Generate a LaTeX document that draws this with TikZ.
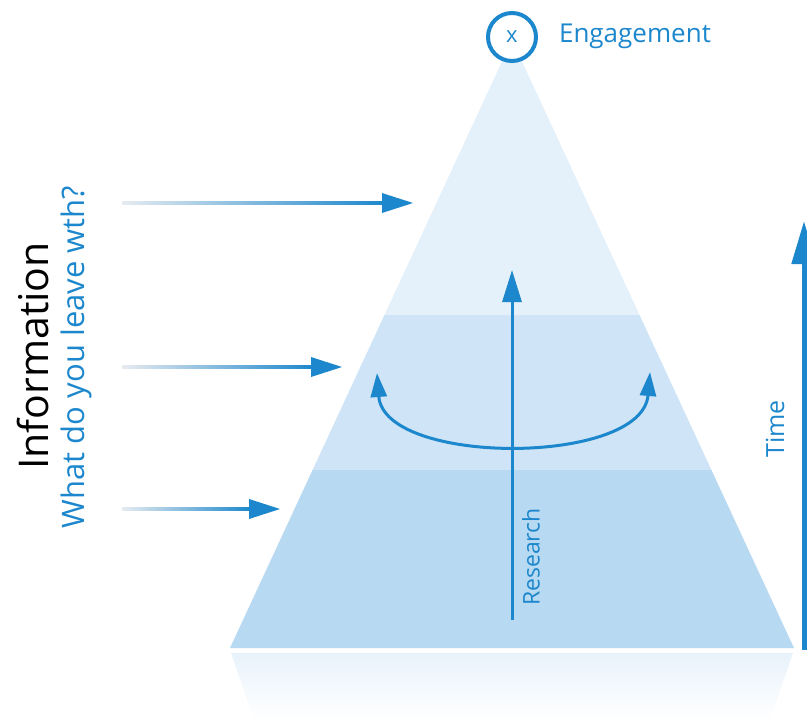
\documentclass[tikz,border=0pt]{standalone}
\usepackage{fontspec}
\setmainfont{Open Sans}
\usetikzlibrary{arrows.meta,calc}
\definecolor{accent}{HTML}{1C87CC}
\definecolor{bandtop}{HTML}{E4F0FA}
\definecolor{bandmid}{HTML}{CFE4F6}
\definecolor{bandlow}{HTML}{B8D9F2}
\definecolor{fadeend}{HTML}{E6EBF0}
\tikzset{
  inflow/.style={fill=accent},
  label/.style={text=accent, inner sep=0pt, font=\fontsize{23}{25}\selectfont},
  bigtip/.tip={Triangle[length=32pt,width=19pt]},
  curvetip/.tip={Triangle[length=24pt,width=16pt]},
  timetip/.tip={Triangle[length=43pt,width=24pt]},
}
\begin{document}
\begin{tikzpicture}[x=1pt,y=-1pt]
  \useasboundingbox (0,0) rectangle (807,720);
  \clip (0,0) rectangle (807,720);

  % pyramid, three bands
  \coordinate (apex) at (512,40);
  \coordinate (bl) at (230,648);
  \coordinate (br) at (794,648);
  \path ($(apex)!{(315-40)/608}!(bl)$) coordinate (l1)
        ($(apex)!{(315-40)/608}!(br)$) coordinate (r1)
        ($(apex)!{(470-40)/608}!(bl)$) coordinate (l2)
        ($(apex)!{(470-40)/608}!(br)$) coordinate (r2);
  \fill[bandlow] (bl) -- (br) -- (r2) -- (l2) -- cycle;
  \fill[bandmid] (l2) -- (r2) -- (r1) -- (l1) -- cycle;
  \fill[bandtop] (apex) -- (l1) -- (r1) -- cycle;

  % mirrored reflection under the base
  \shade[top color=bandtop!85!white, bottom color=white]
    (231,653) -- (793,653) -- (770,720) -- (254,720) -- cycle;

  % engagement marker at the apex
  \node[circle, draw=accent, fill=white, line width=4pt, minimum size=48pt, inner sep=0pt,
        text=accent, font=\fontsize{22}{22}\selectfont] (goal) at (512,37) {x};
  \node[label, font=\fontsize{26}{28}\selectfont] (eng) at (635,36) {Engagement};

  % incoming information arrows, fading in from the left
  \foreach \y/\tip [count=\i] in {203/413, 367/342, 509/280} {
    \coordinate (src\i) at (122,\y);
    \coordinate (dst\i) at (\tip,\y);
    \shade[left color=fadeend, right color=accent]
      ($(src\i)+(0,-1.6)$) rectangle ($(dst\i)+(-28,1.6)$);
    \fill[inflow] (dst\i) -- ($(dst\i)+(-31,-10)$) -- ($(dst\i)+(-31,10)$) -- cycle;
  }

  % research axis and rotation
  \coordinate (rbase) at (512,620);
  \coordinate (rtop) at (512,270);
  \draw[draw=accent, line width=3pt, -{bigtip}] (rbase) -- (rtop);
  \coordinate (cl) at (377,373);
  \coordinate (cr) at (650,372);
  \draw[draw=accent, line width=3pt, {curvetip}-{curvetip}]
    (cl) .. controls (384,466) and (642,466) .. (cr);
  \node[label, rotate=90, anchor=west] (res) at (531,606) {Research};

  % time axis on the right
  \coordinate (tbase) at (804,650);
  \coordinate (ttop) at (804,221);
  \draw[draw=accent, line width=5pt, -{timetip}] (tbase) -- (ttop);
  \node[label, rotate=90, font=\fontsize{25}{27}\selectfont] (time) at (775,429) {Time};

  % side captions
  \node[rotate=90, inner sep=0pt, font=\fontsize{41}{45}\selectfont] (info) at (33,356) {Information};
  \node[rotate=90, inner sep=0pt, text=accent, font=\fontsize{31}{33}\selectfont] (q) at (76,357) {What do you leave wth?};
\end{tikzpicture}
\end{document}
